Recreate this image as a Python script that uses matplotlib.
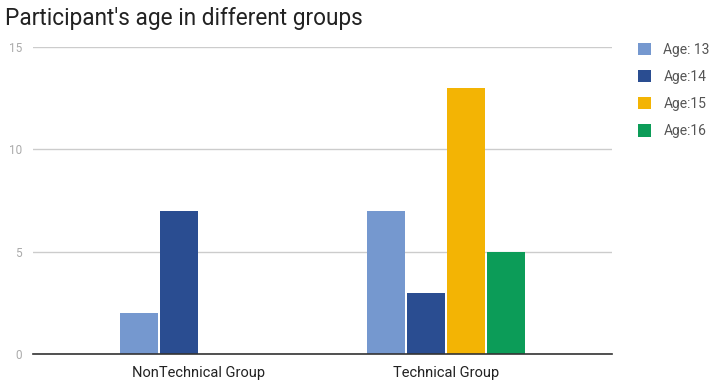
import numpy as np
import matplotlib
matplotlib.use('Agg')
from matplotlib import pyplot as plt

groups = ['NonTechnical Group', 'Technical Group']
series_names = ['Age: 13', 'Age:14', 'Age:15', 'Age:16']
series_values = [
    [2, 7],
    [7, 3],
    [0, 13],
    [0, 5],
]
colors = ['#7598cf', '#2a4d91', '#f3b404', '#0c9c58']
y_ticks = [0, 5, 10, 15]

plt.rcParams['font.family'] = ['Roboto', 'DejaVu Sans']

fig = plt.figure(figsize=(7.09, 3.81), dpi=100)
ax = fig.add_axes([33 / 709, 1 - 354 / 381, (612 - 33) / 709, (354 - 47) / 381])

x = np.arange(len(groups))
step = 0.162
width = 0.156
handles = []
for i, (name, vals) in enumerate(zip(series_names, series_values)):
    offs = (i - 1.5) * step
    h = ax.bar(x + offs, vals, width, color=colors[i], label=name, zorder=3)
    handles.append(h)

ax.set_xlim(-0.672, 1.672)
ax.set_ylim(0, 15)
ax.set_yticks(y_ticks)
ax.set_xticks(x)
ax.set_xticklabels(groups, fontsize=10.5, color='#222222')
ax.tick_params(axis='y', length=0, labelsize=8.5, labelcolor='#aaaaaa', pad=8)
ax.tick_params(axis='x', length=0, pad=9)
ax.grid(axis='y', color='#cccccc', linewidth=1, zorder=0)
for s in ['top', 'right', 'left']:
    ax.spines[s].set_visible(False)
ax.spines['bottom'].set_color('#333333')
ax.spines['bottom'].set_linewidth(1.2)
ax.spines['bottom'].set_zorder(4)

fig.text(5 / 709, 1 - 18 / 381, "Participant's age in different groups",
         fontsize=16.3, color='#222222', va='center', ha='left')

ax.legend(handles=handles, loc='upper left', bbox_to_anchor=(632 / 709, 1 - 37 / 381),
          bbox_transform=fig.transFigure, frameon=False, fontsize=10,
          labelcolor='#555555', handlelength=1.0, handleheight=1.0,
          labelspacing=0.95, handletextpad=0.85, borderaxespad=0)

fig.savefig('out.png', dpi=100)
